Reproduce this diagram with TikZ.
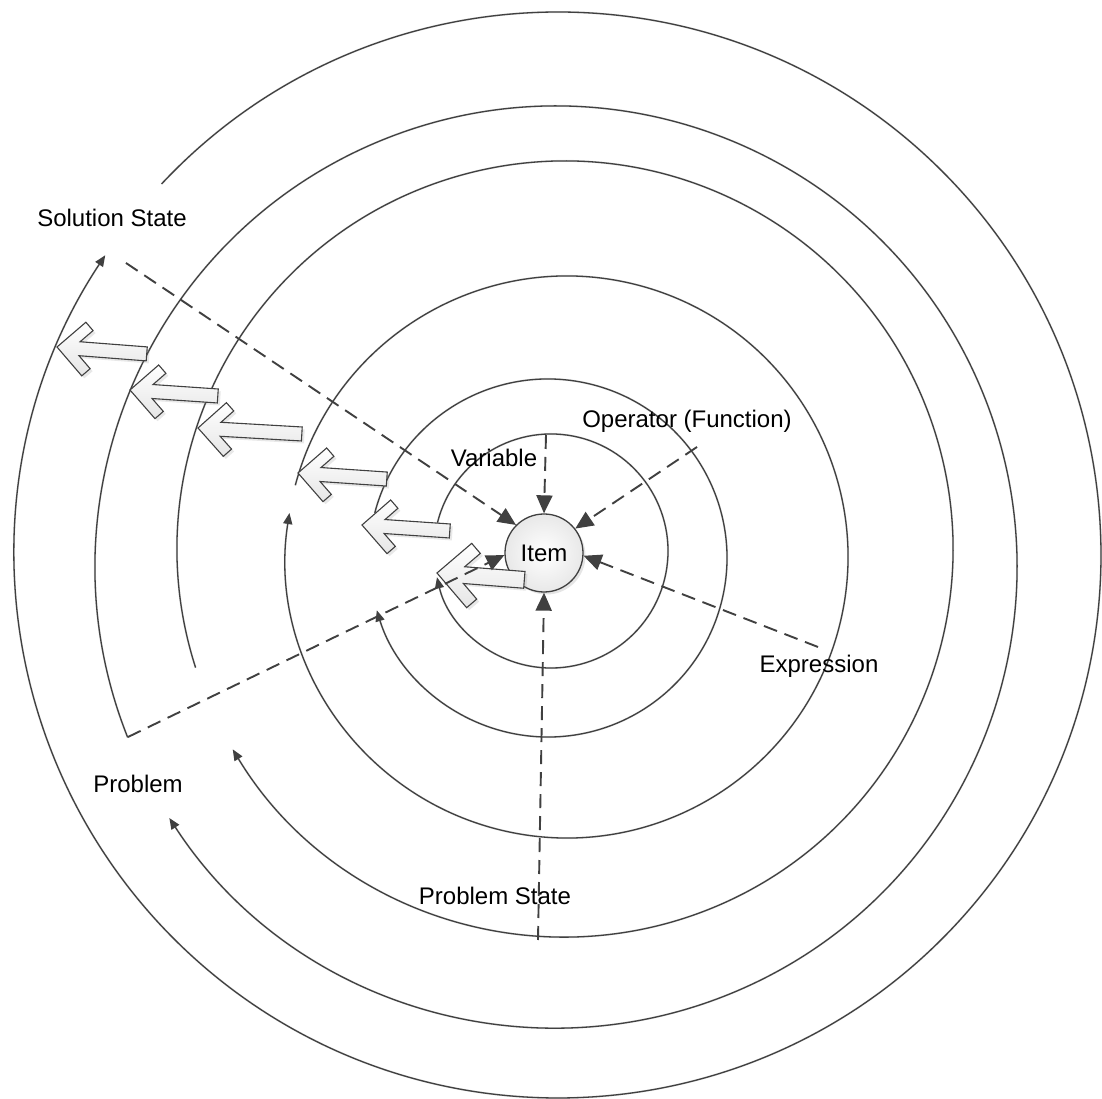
\documentclass[tikz,border=0pt]{standalone}
\usepackage{fontspec}
\setmainfont{Liberation Sans}
\usetikzlibrary{arrows.meta,shadows}

\definecolor{ink}{RGB}{64,64,64}

\begin{document}
\begin{tikzpicture}[x=1bp, y=1bp,
  ring/.style={draw=ink, line width=1.3bp, -{Triangle[length=11bp,width=9bp]}},
  ringshade/.style={draw=black!12, line width=2bp, -{Triangle[length=11bp,width=9bp]}},
  link/.style={draw=ink, line width=1.9bp, dash pattern=on 14bp off 8bp,
    -{Triangle[length=18bp,width=16bp]}},
  lbl/.style={font=\fontsize{24bp}{28bp}\selectfont, anchor=base, inner sep=0pt},
  item/.style={circle, draw=ink, line width=1.3bp, minimum size=78bp, inner sep=0pt,
    inner color=white, outer color=black!9,
    drop shadow={shadow xshift=2.5bp, shadow yshift=-2.5bp, opacity=0.2},
    font=\fontsize{24bp}{28bp}\selectfont},
  pics/blockarrow/.style={code={
    \shade[top color=white, bottom color=black!10, draw=ink, line width=1.1bp,
      drop shadow={shadow xshift=2.5bp, shadow yshift=-2.5bp, opacity=0.18}]
      (0,0) -- (26.9,26.9) -- (34.7,19.1) -- (22.6,7) -- (#1,7) -- (#1,-7)
      -- (22.6,-7) -- (34.7,-19.1) -- (26.9,-26.9) -- cycle;
  }}
]
\fill[white] (0,0) rectangle (1102,1099);
\useasboundingbox (0,0) rectangle (1102,1099);

% centres of the six rings
\coordinate (c1) at (551,548);
\coordinate (c2) at (548,541);
\coordinate (c3) at (567,542);
\coordinate (c4) at (565,550);
\coordinate (c5) at (556,532);
\coordinate (c6) at (558,544);

% faint shadows of the rings
\begin{scope}[shift={(1.3,-1.6)}]
  \draw[ringshade] (c1) ++(166:117) arc[start angle=166, end angle=-167, radius=117];
  \draw[ringshade] (c2) ++(165.4:179) arc[start angle=165.4, end angle=-163, radius=179];
  \draw[ringshade] (c3) ++(165.2:281) arc[start angle=165.2, end angle=-189, radius=281];
  \draw[ringshade] (c4) ++(197.8:388) arc[start angle=197.8, end angle=-148.9, radius=388];
  \draw[ringshade] (c5) ++(201.7:461) arc[start angle=201.7, end angle=-147, radius=461];
  \draw[ringshade] (c6) ++(136.9:543) arc[start angle=136.9, end angle=-213.5, radius=543];
\end{scope}

% the rings
\draw[ring] (c1) ++(166:117) arc[start angle=166, end angle=-167, radius=117];
\draw[ring] (c2) ++(165.4:179) arc[start angle=165.4, end angle=-163, radius=179];
\draw[ring] (c3) ++(165.2:281) arc[start angle=165.2, end angle=-189, radius=281];
\draw[ring] (c4) ++(197.8:388) arc[start angle=197.8, end angle=-148.9, radius=388];
\draw[ring] (c5) ++(201.7:461) arc[start angle=201.7, end angle=-147, radius=461];
\draw[ring] (c6) ++(136.9:543) arc[start angle=136.9, end angle=-213.5, radius=543];

% central item
\node[item] (item) at (544,546) {Item};

% outward block arrows
\coordinate (ta) at (57,752);
\coordinate (tb) at (130,709);
\coordinate (tc) at (198,671);
\coordinate (td) at (298,626);
\coordinate (te) at (362,574);
\coordinate (tf) at (437,526);
\pic[rotate=-4.4] at (ta) {blockarrow=90};
\pic[rotate=-3.9] at (tb) {blockarrow=88};
\pic[rotate=-3.3] at (tc) {blockarrow=104};
\pic[rotate=-3.9] at (td) {blockarrow=89};
\pic[rotate=-3.9] at (te) {blockarrow=88};
\pic[rotate=-4.5, scale=1.2] at (tf) {blockarrow=73};

% dashed links into the item
\coordinate (var) at (546,664);
\coordinate (op) at (697,652);
\coordinate (expr) at (818,452);
\coordinate (pst) at (538,159);
\coordinate (prob) at (128,362);
\coordinate (sol) at (126,836);
\draw[link] (var) -- (item.north);
\draw[link] (op) -- (item.38);
\draw[link] (expr) -- (item.-4);
\draw[link] (pst) -- (item.south);
\draw[link] (prob) -- (item.183);
\draw[link] (sol) -- (item.135);

% labels
\node[lbl] (lsol) at (112,872) {Solution State};
\node[lbl] (lvar) at (494,632) {Variable};
\node[lbl] (lop) at (687,671) {Operator (Function)};
\node[lbl] (lexpr) at (819,426) {Expression};
\node[lbl] (lprob) at (138,306) {Problem};
\node[lbl] (lpst) at (495,194) {Problem State};
\end{tikzpicture}
\end{document}
